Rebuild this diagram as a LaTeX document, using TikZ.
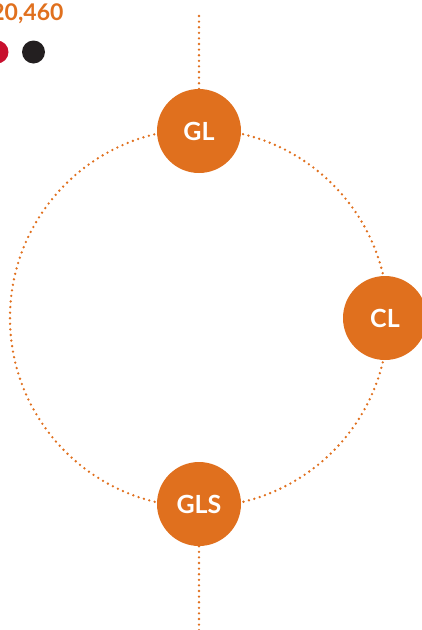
\documentclass[tikz,border=0pt]{standalone}
\usepackage{fontspec}
\setmainfont{Lato}
\usetikzlibrary{positioning}
\definecolor{ringorange}{RGB}{224,112,30}
\definecolor{dotred}{RGB}{200,16,46}
\definecolor{dotblack}{RGB}{35,31,32}
\tikzset{
  dotline/.style={ringorange,line width=2.6pt,line cap=round,dash pattern=on 0pt off 5.6pt},
  ringnode/.style={circle,fill=ringorange,text=white,minimum size=84pt,inner sep=0pt,
    font=\fontsize{25}{28}\selectfont\bfseries},
  legenddot/.style={circle,minimum size=23pt,inner sep=0pt}
}
\begin{document}
\begin{tikzpicture}[x=1pt,y=-1pt]
\useasboundingbox (0,0) rectangle (422,630);
%---------------------Header------------------%
\node[anchor=east,text=ringorange,font=\fontsize{23}{26}\selectfont\bfseries] (total) at (67,14) {20,460};
\node[legenddot,fill=dotred] (reddot) at (-3,52) {};
\node[legenddot,fill=dotblack] (blackdot) at (33.5,52) {};
%--------------------------------------------------------%

%---------------------Ring------------------%
\coordinate (ringctr) at (199,318);
\coordinate (topend) at (199,13);
\coordinate (botend) at (199,632);
\draw[dotline] (ringctr) circle (189);
\node[ringnode] (gl) at (199,131) {GL};
\node[ringnode] (cl) at (385,318) {CL};
\node[ringnode] (gls) at (199,504) {GLS};
%--------------------------------------------------------%

\draw[dotline] (gl) -- (topend);
\draw[dotline] (gls) -- (botend);
\end{tikzpicture}
\end{document}
